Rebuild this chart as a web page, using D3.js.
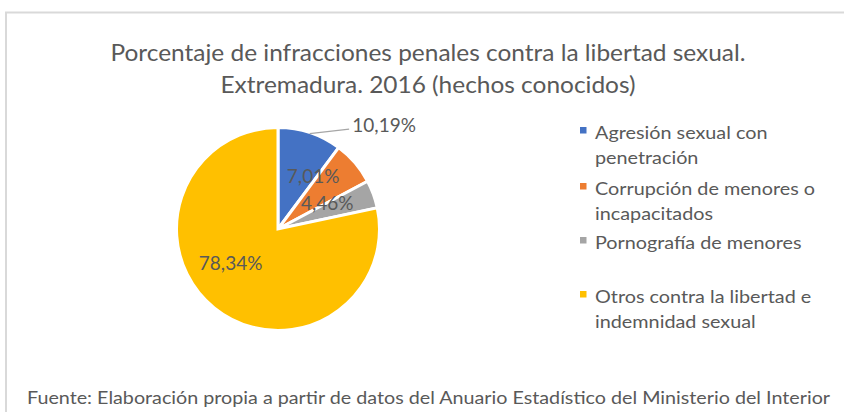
<!DOCTYPE html>
<html>
<head>
<meta charset="utf-8">
<script src="https://cdn.jsdelivr.net/npm/d3@7"></script>
<style>
  html, body { margin: 0; padding: 0; background: #fff; }
  svg { display: block; }
  text { font-family: Lato, "Open Sans", sans-serif; fill: #595959; }
</style>
</head>
<body>
<svg id="chart" width="844" height="412"></svg>
<script>
// ---- data ----
const categories = [
  "Agresión sexual con penetración",
  "Corrupción de menores o incapacitados",
  "Pornografía de menores",
  "Otros contra la libertad e indemnidad sexual"
];
const values = [10.19, 7.01, 4.46, 78.34];
const valueLabels = ["10,19%", "7,01%", "4,46%", "78,34%"];
const legendLines = [
  ["Agresión sexual con", "penetración"],
  ["Corrupción de menores o", "incapacitados"],
  ["Pornografía de menores"],
  ["Otros contra la libertad e", "indemnidad sexual"]
];
const colors = ["#4472C4", "#ED7D31", "#A5A5A5", "#FFC000"];
const titleLines = [
  "Porcentaje de infracciones penales contra la libertad sexual.",
  "Extremadura. 2016 (hechos conocidos)"
];
const sourceText = "Fuente: Elaboración propia a partir de datos del Anuario Estadístico del Ministerio del Interior";

// ---- layout ----
const svg = d3.select("#chart");
const W = 844, H = 412;

// chart border (extends beyond right/bottom)
svg.append("rect")
  .attr("x", 6).attr("y", 12.5)
  .attr("width", 900).attr("height", 500)
  .attr("fill", "none").attr("stroke", "#d9d9d9").attr("stroke-width", 2);

// horizontal fit helper
function fitGroup(sel, refIndex, targetWidth) {
  const nodes = sel.nodes();
  const ref = nodes[refIndex].getComputedTextLength();
  const k = targetWidth / ref;
  nodes.forEach(n => {
    const w = n.getComputedTextLength();
    d3.select(n).attr("textLength", w * k).attr("lengthAdjust", "spacingAndGlyphs");
  });
}

// title
const titleSel = svg.append("g").selectAll("text").data(titleLines).join("text")
  .attr("x", 428)
  .attr("y", (d, i) => 61 + i * 32)
  .attr("text-anchor", "middle")
  .attr("font-size", 23)
  .text(d => d);
fitGroup(titleSel, 0, 635);

// pie
const cx = 278, cy = 229, R = 101.5;
const pie = d3.pie().sort(null).value(d => d);
const arcs = pie(values);
const arc = d3.arc().innerRadius(0).outerRadius(R);
const gPie = svg.append("g").attr("transform", `translate(${cx},${cy})`);
gPie.selectAll("path").data(arcs).join("path")
  .attr("d", arc)
  .attr("fill", (d, i) => colors[i])
  .attr("stroke", "#fff")
  .attr("stroke-width", 3)
  .attr("stroke-linejoin", "miter");

// data labels (Excel best-fit: angle offset in degrees from slice mid, radius factor)
const labelLayout = [
  { outside: true, da: 27, rf: 1.47 },
  { outside: false, da: -16, rf: 0.63 },
  { outside: false, da: -8, rf: 0.55 },
  { outside: false, da: 16, rf: 0.57 }
];
const toXY = (a, r) => [Math.sin(a) * r, -Math.cos(a) * r];
arcs.forEach((d, i) => {
  const L = labelLayout[i];
  const mid = (d.startAngle + d.endAngle) / 2;
  const la = mid + L.da * Math.PI / 180;
  const [lx, ly] = toXY(la, R * L.rf);
  if (L.outside) {
    const [ax, ay] = toXY(mid, R - 1);
    gPie.append("path")
      .attr("d", `M${ax},${ay} L${lx - 35},${ly + 5}`)
      .attr("stroke", "#a6a6a6").attr("stroke-width", 1.2).attr("fill", "none");
  }
  gPie.append("text")
    .attr("x", lx).attr("y", ly)
    .attr("text-anchor", "middle")
    .attr("dominant-baseline", "central")
    .attr("font-size", 19)
    .attr("textLength", null)
    .text(valueLabels[i]);
});

// legend
const gLeg = svg.append("g");
const legendBaselines = [[139, 164], [195, 220], [249], [303, 328]];
const legTexts = [];
legendLines.forEach((lines, i) => {
  gLeg.append("rect")
    .attr("x", 580).attr("y", legendBaselines[i][0] - 12)
    .attr("width", 6.5).attr("height", 6.5)
    .attr("fill", colors[i]);
  lines.forEach((ln, j) => {
    gLeg.append("text")
      .attr("class", "leg")
      .attr("x", 595).attr("y", legendBaselines[i][j])
      .attr("font-size", 17.5)
      .text(ln);
  });
});
fitGroup(gLeg.selectAll("text.leg"), 2, 220);

// source
const srcSel = svg.append("g").selectAll("text").data([sourceText]).join("text")
  .attr("x", 27).attr("y", 404)
  .attr("font-size", 17.5)
  .text(d => d);
fitGroup(srcSel, 0, 803);
</script>
</body>
</html>
